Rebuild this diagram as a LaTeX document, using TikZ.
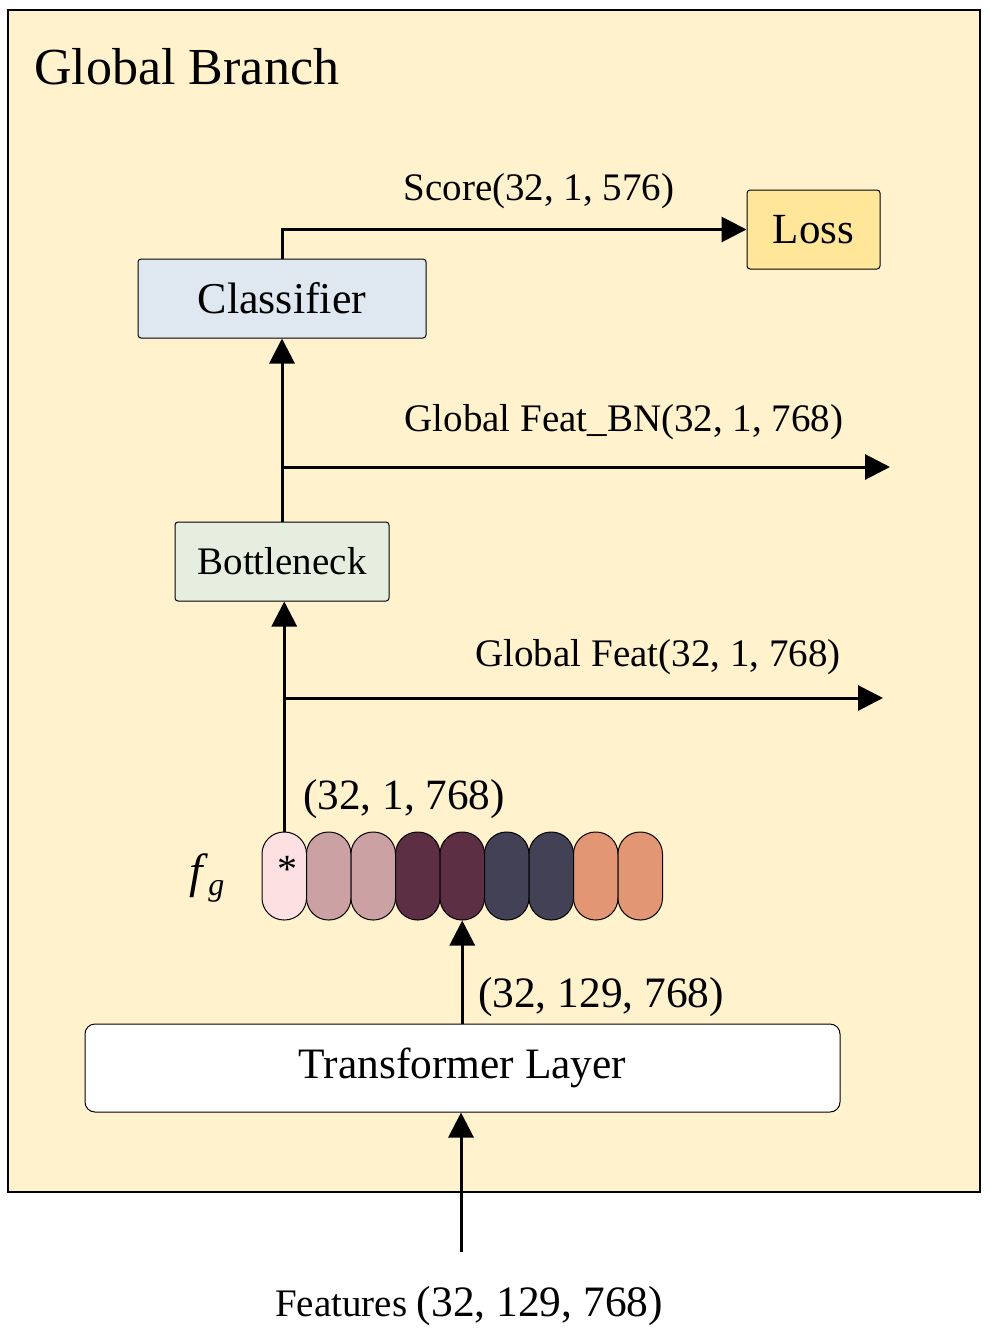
\documentclass[tikz,border=0pt]{standalone}
\usepackage{fontspec}
\setmainfont{Liberation Serif}
\usepackage{tikz}
\usetikzlibrary{arrows.meta}

\definecolor{branchbg}{HTML}{FFF2CC}
\definecolor{clsfill}{HTML}{DFE7F1}
\definecolor{bnfill}{HTML}{E6EFDF}
\definecolor{lossfill}{HTML}{FFE699}
\definecolor{tokA}{HTML}{FCE0E2}
\definecolor{tokB}{HTML}{CCA1A4}
\definecolor{tokC}{HTML}{5C2F44}
\definecolor{tokD}{HTML}{434155}
\definecolor{tokE}{HTML}{E29673}

\tikzset{
    block/.style = {draw, line width=0.5pt, rounded corners=1.5pt, inner sep=0pt},
    token/.style = {draw, line width=0.5pt, minimum width=22.25pt, minimum height=44pt,
                    rounded corners=11pt, inner sep=0pt},
    arr/.style = {line width=1.5pt, -{Triangle[length=12.5pt, width=12.5pt]}},
    lbl/.style = {inner sep=0pt, font=\fontsize{19.5}{22}\selectfont},
}

\begin{document}
\begin{tikzpicture}[x=0.5pt, y=-0.5pt]
        \useasboundingbox (0, 0) rectangle (990, 1338);

        % background of the branch
        \draw[line width=1pt, fill=branchbg] (8, 10) rectangle (980, 1192);
        \node[anchor=west, inner sep=0pt, font=\fontsize{26}{30}\selectfont] (title) at (34, 67) {Global Branch};

        % boxes
        \node[block, fill=clsfill, minimum width=144pt, minimum height=39.5pt, font=\fontsize{22}{26}\selectfont] (classifier) at (282, 298.5) {Classifier};
        \node[block, fill=lossfill, minimum width=66.5pt, minimum height=39.5pt, font=\fontsize{21.5}{26}\selectfont] (loss) at (813.5, 229.5) {Loss};
        \node[block, fill=bnfill, minimum width=107pt, minimum height=39.5pt, font=\fontsize{19.5}{24}\selectfont] (bottleneck) at (282, 561.5) {Bottleneck};
        \node[block, fill=white, rounded corners=5pt, minimum width=377.5pt, minimum height=44pt, font=\fontsize{21.7}{26}\selectfont] (transformer) at (462.5, 1068) {Transformer Layer};

        % token sequence
        \foreach \c [count=\i] in {tokA, tokB, tokB, tokC, tokC, tokD, tokD, tokE, tokE} {
            \node[token, fill=\c] (t\i) at ({284.25 + 44.5*(\i-1)}, 876) {};
        }
        \node[font=\fontsize{20}{24}\selectfont, inner sep=0pt] (star) at (287, 869) {*};
        \node[inner sep=0pt, font=\fontsize{24}{28}\selectfont] (fg) at (207, 878) {\textit{f}\raisebox{-0.35ex}{\fontsize{16}{18}\selectfont\textit{g}}};

        % input
        \node[inner sep=0pt] (features) at (469, 1306) {\fontsize{19.5}{24}\selectfont Features \fontsize{21.7}{26}\selectfont(32, 129, 768)};
        \coordinate (in) at (461, 1252);

        % connectors
        \draw[arr] (in) -- (in |- transformer.south);
        \draw[arr] (t5.south |- transformer.north) -- (t5.south);
        \draw[arr] (t1.north) -- (t1.north |- bottleneck.south);
        \coordinate (gf) at (284, 698);
        \coordinate (gfend) at (883, 698);
        \draw[arr] (gf) -- (gfend);
        \draw[arr] (bottleneck.north) -- (classifier.south);
        \coordinate (gbn) at (282, 467);
        \coordinate (gbnend) at (890, 467);
        \draw[arr] (gbn) -- (gbnend);
        \draw[arr] (classifier.north) |- (loss.west);

        % labels
        \node[lbl] (score) at (539, 191) {Score(32, 1, 576)};
        \node[lbl] (bnlbl) at (624, 422) {Global Feat\_BN(32, 1, 768)};
        \node[lbl] (gflbl) at (658, 657) {Global Feat(32, 1, 768)};
        \node[lbl, font=\fontsize{21.6}{26}\selectfont] (tokdim) at (404, 799) {(32, 1, 768)};
        \node[lbl, font=\fontsize{21.7}{26}\selectfont] (trdim) at (601, 997) {(32, 129, 768)};

    \end{tikzpicture}
\end{document}
